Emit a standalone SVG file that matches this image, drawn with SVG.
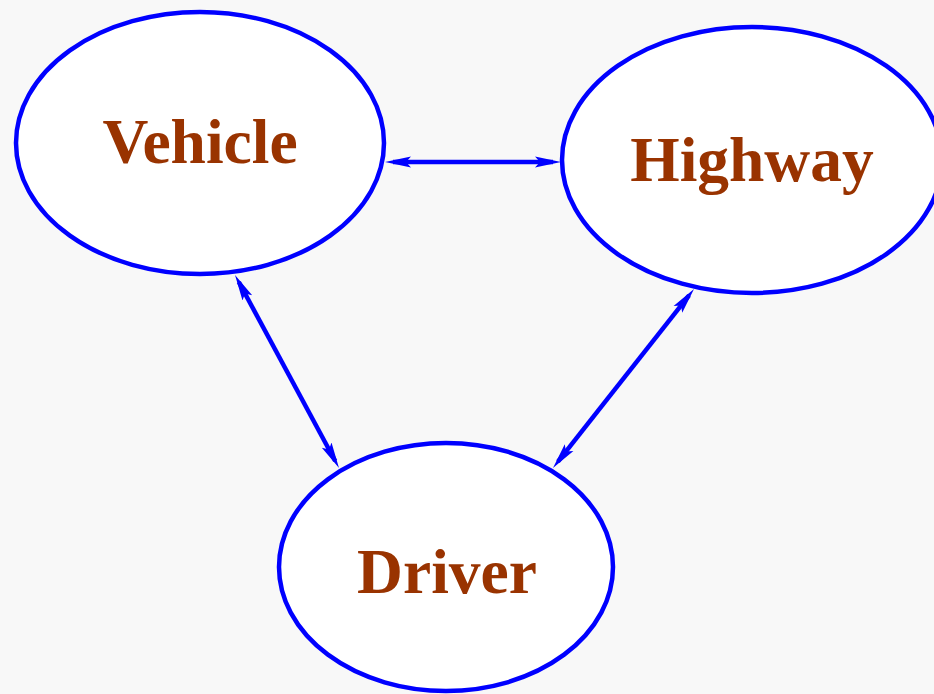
<svg xmlns="http://www.w3.org/2000/svg" width="934" height="694" viewBox="0 0 934 694">
<style>
.node ellipse{fill:#ffffff;stroke:#0000ff;stroke-width:4.5}
.node text{font-family:"Liberation Serif","Times New Roman",serif;font-weight:bold;font-size:63.5px;fill:#993300;text-anchor:middle}
.edge{stroke:#0000ff;stroke-width:4.5;fill:none;marker-start:url(#ah);marker-end:url(#ah)}
</style>
<defs>
<marker id="ah" markerUnits="userSpaceOnUse" markerWidth="30" markerHeight="14" viewBox="0 -7 30 14" refX="18" refY="0" orient="auto-start-reverse">
<path d="M0,-5.5 L26,0 L0,5.5 L5,0 z" fill="#0000ff"/>
</marker>
</defs>
<rect width="934" height="694" fill="#f8f8f8"/>
<g id="connectors">
<line class="edge" x1="393" y1="162" x2="553" y2="162"/>
<line class="edge" x1="238.8" y1="282" x2="335.2" y2="461"/>
<line class="edge" x1="689.05" y1="295.28" x2="557.95" y2="461.72"/>
</g>
<g id="vehicle" class="node">
<ellipse cx="200" cy="143" rx="184" ry="131"/>
<text x="200" y="163">Vehicle</text>
</g>
<g id="highway" class="node">
<ellipse cx="752" cy="160" rx="190" ry="133"/>
<text x="752" y="181">Highway</text>
</g>
<g id="driver" class="node">
<ellipse cx="446" cy="567" rx="167" ry="124"/>
<text x="447" y="593">Driver</text>
</g>
</svg>
